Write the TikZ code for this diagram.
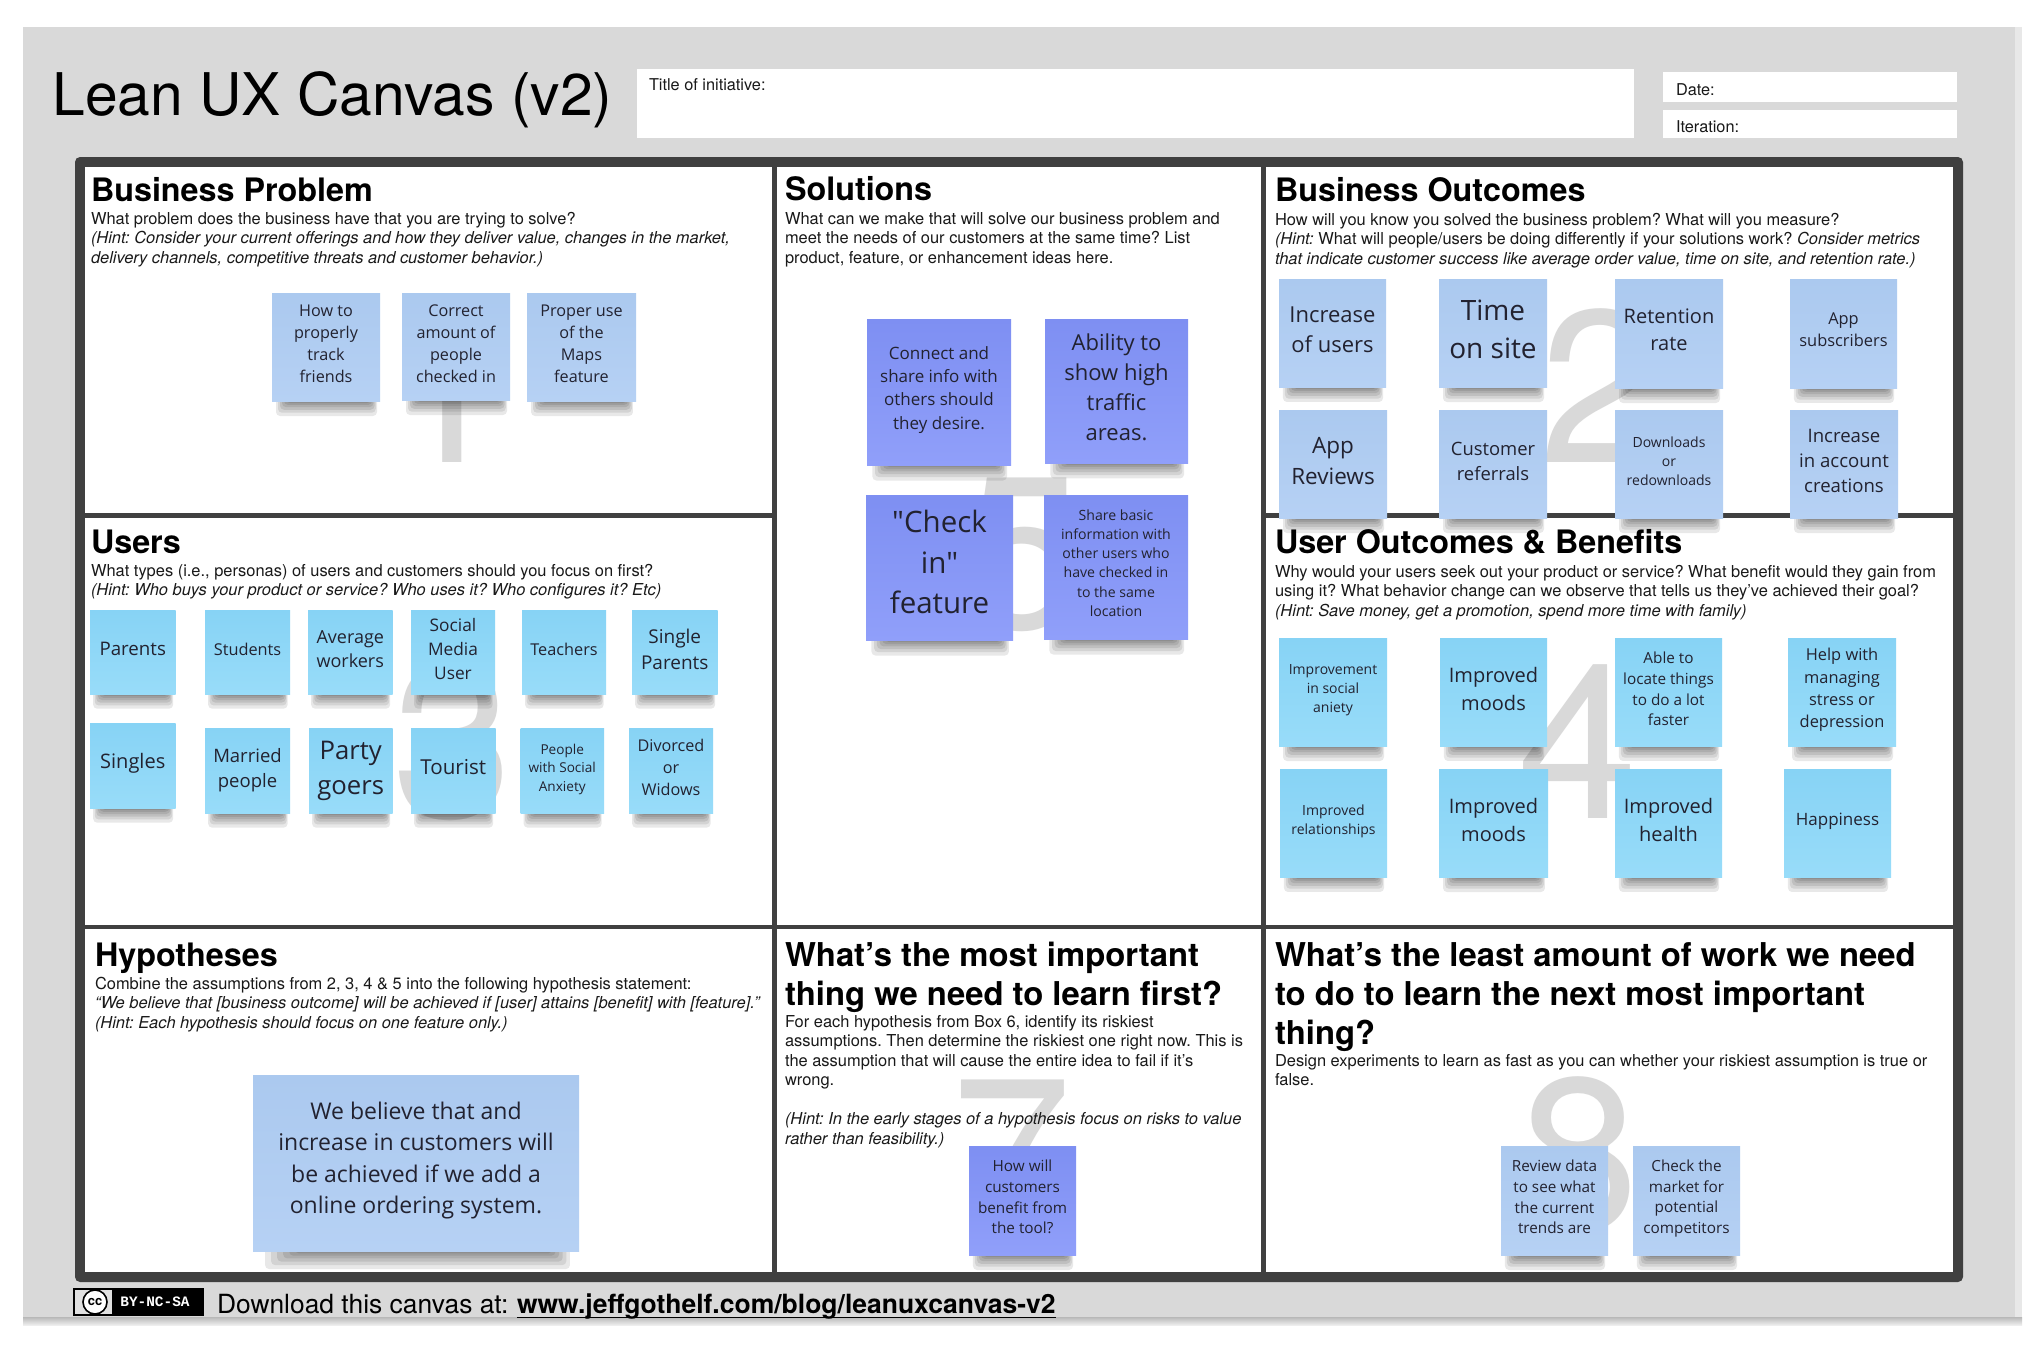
\documentclass[tikz,border=0pt]{standalone}
\usepackage{fontspec}
\setmainfont{TeX Gyre Heros}
\newfontfamily\noto{Open Sans}
\newfontfamily\lmonobold[BoldFont={Liberation Mono Bold}]{Liberation Mono}
\frenchspacing
\definecolor{framegrey}{HTML}{404040}
\definecolor{bggrey}{HTML}{D9D9D9}
\definecolor{digitgrey}{HTML}{D9D9D9}
\definecolor{stickyink}{HTML}{222230}
\tikzset{
  cellbox/.style={fill=white,draw=none,inner sep=0,outer sep=0,anchor=north west},
  heading/.style={anchor=base west,inner sep=0,outer sep=0,align=left,font=\bfseries\fontsize{16.15}{19.5}\selectfont,text=black},
  bigheading/.style={anchor=base west,inner sep=0,outer sep=0,align=left,font=\bfseries\fontsize{16.4}{19.5}\selectfont,text=black},
  bodytext/.style={anchor=base west,inner sep=0,outer sep=0,align=left,font=\fontsize{8.22}{9.75}\selectfont,text=black!90},
  hdrlabel/.style={anchor=base west,inner sep=0,outer sep=0,font=\fontsize{8.15}{9.75}\selectfont,text=black!90},
  hdrbox/.style={fill=white,draw=none,inner sep=0,outer sep=0,anchor=north west},
  bignum/.style={anchor=base,inner sep=0,outer sep=0,text=digitgrey,font=\fontsize{108.5}{110}\selectfont},
  stickybox/.style={inner sep=0,outer sep=0,draw=none},
  stickytext/.style={inner sep=0,outer sep=0,align=center,text=stickyink},
  paleblue/.style={top color=paleTop,bottom color=paleBot},
  skyblue/.style={top color=skyTop,bottom color=skyBot},
  periwinkle/.style={top color=periTop,bottom color=periBot}
}
\definecolor{paleTop}{HTML}{ABC9EF}
\definecolor{paleBot}{HTML}{B6D1F4}
\definecolor{skyTop}{HTML}{87D3F5}
\definecolor{skyBot}{HTML}{98DCF9}
\definecolor{periTop}{HTML}{7E8FF2}
\definecolor{periBot}{HTML}{909FFA}
% name x1 y1 x2 y2 style fontpx textcentrey text
\newcommand{\sticky}[9]{%
  \pgfmathsetmacro{\sw}{#4-#2}%
  \pgfmathsetmacro{\sh}{#5-#3}%
  \pgfmathsetmacro{\scx}{(#2+#4)/2}%
  \pgfmathsetmacro{\scy}{(#3+#5)/2}%
  \pgfmathsetmacro{\fs}{#7/2}%
  \pgfmathsetmacro{\ls}{#7/2*1.36}%
  \pgfmathsetmacro{\sk}{\sw/108}%
  \foreach \i in {0,...,6}{%
    \fill[black,opacity=.09,rounded corners=2pt]
      ({#2+(4+2*\i)*\sk},{#5-6}) rectangle ({#4-(3+1.2*\i)*\sk},{#5+15*pow(1-\i/7,1.6)*(0.9+0.1*\sk)});
  }%
  \node[stickybox,#6,minimum width=\sw*0.5pt,minimum height=\sh*0.5pt] (#1) at (\scx,\scy) {};
  \node[stickytext,font=\noto\fontsize{\fs}{\ls}\selectfont] (#1t) at (\scx,#8) {#9};
}
\begin{document}
\begin{tikzpicture}[x=0.5pt,y=-0.5pt]
\useasboundingbox (0,0) rectangle (2042,1345);
\fill[white] (0,0) rectangle (2042,1345);
% page
\fill[bggrey!60] (2015,27) rectangle (2022,1325);
\shade[top color=bggrey!85!black!100,bottom color=bggrey!45] (23,1317) rectangle (2022,1325);
\fill[bggrey] (23,27) rectangle (2015,1317);
% header
\node[anchor=base west,inner sep=0,font=\fontsize{29.4}{32}\selectfont] (title) at (52,115) {Lean UX Canvas (v2)};
\node[hdrbox,minimum width=498.5pt,minimum height=34.5pt] (titlebox) at (637,69) {};
\node[hdrbox,minimum width=147pt,minimum height=15pt] (datebox) at (1663,72) {};
\node[hdrbox,minimum width=147pt,minimum height=14pt] (iterbox) at (1663,110) {};
\node[hdrlabel] (titlelabel) at (649,90.5) {Title of initiative:};
\node[hdrlabel] (datelabel) at (1676,95) {Date:};
\node[hdrlabel] (iterlabel) at (1676,132) {Iteration:};
% frame
\node[fill=framegrey,rounded corners=2.5pt,inner sep=0,outer sep=0,anchor=north west,minimum width=944pt,minimum height=562.5pt] (frame) at (75,157) {};
% cells
\node[cellbox,minimum width=343.5pt,minimum height=173pt] (cellone) at (85,167) {};
\node[cellbox,minimum width=343.5pt,minimum height=203.5pt] (cellthree) at (85,518) {};
\node[cellbox,minimum width=242pt,minimum height=379pt] (cellfive) at (777,167) {};
\node[cellbox,minimum width=343.5pt,minimum height=173pt] (celltwo) at (1266,167) {};
\node[cellbox,minimum width=343.5pt,minimum height=203.5pt] (cellfour) at (1266,518) {};
\node[cellbox,minimum width=343.5pt,minimum height=171.5pt] (cellsix) at (85,929) {};
\node[cellbox,minimum width=242pt,minimum height=171.5pt] (cellseven) at (777,929) {};
\node[cellbox,minimum width=343.5pt,minimum height=171.5pt] (celleight) at (1266,929) {};
% digits
\node[bignum] (numone) at (447,462) {1};
\node[bignum] (numtwo) at (1600,462) {2};
\node[bignum] (numthree) at (453,817) {3};
\node[bignum] (numfour) at (1578,818) {4};
\node[bignum] (numfive) at (1024,628) {5};
\node[bignum] (numseven) at (1012,1230) {7};
\node[bignum] (numeight) at (1579,1230) {8};
% headings (base anchor of a multi-line node is its last line)
\node[heading] (hBP) at (91,201) {Business Problem};
\node[heading] (hSol) at (785,200) {Solutions};
\node[heading] (hBO) at (1275,201) {Business Outcomes};
\node[heading] (hUsers) at (91,553) {Users};
\node[heading] (hUO) at (1275,553) {User Outcomes \& Benefits};
\node[heading] (hHyp) at (95,966) {Hypotheses};
\node[bigheading] (hMost) at (785,1005) {What’s the most important\\thing we need to learn first?};
\node[bigheading] (hLeast) at (1275,1044) {What’s the least amount of work we need\\to do to learn the next most important\\thing?};
% body
\node[bodytext] (bBP) at (91,263) {What problem does the business have that you are trying to solve?\\\itshape(Hint: Consider your current offerings and how they deliver value, changes in the market,\\\itshape delivery channels, competitive threats and customer behavior.)};
\node[bodytext] (bSol) at (785,263) {What can we make that will solve our business problem and\\meet the needs of our customers at the same time? List\\product, feature, or enhancement ideas here.};
\node[bodytext] (bBO) at (1275,264) {How will you know you solved the business problem? What will you measure?\\\textit{(Hint:} What will people/users be doing differently if your solutions work? \textit{Consider metrics}\\\itshape that indicate customer success like average order value, time on site, and retention rate.)};
\node[bodytext] (bUsers) at (91,595.5) {What types (i.e., personas) of users and customers should you focus on first?\\\itshape(Hint: Who buys your product or service? Who uses it? Who configures it? Etc)};
\node[bodytext] (bUO) at (1275,616) {Why would your users seek out your product or service? What benefit would they gain from\\using it? What behavior change can we observe that tells us they've achieved their goal?\\\itshape(Hint: Save money, get a promotion, spend more time with family)};
\node[bodytext] (bHyp) at (95,1028) {Combine the assumptions from 2, 3, 4 \& 5 into the following hypothesis statement:\\\itshape“We believe that [business outcome] will be achieved if [user] attains [benefit] with [feature].”\\\itshape(Hint: Each hypothesis should focus on one feature only.)};
\node[bodytext] (bMost) at (785,1144) {For each hypothesis from Box 6, identify its riskiest\\assumptions. Then determine the riskiest one right now. This is\\the assumption that will cause the entire idea to fail if it’s\\wrong.\\[9.75pt]\itshape(Hint: In the early stages of a hypothesis focus on risks to value\\\itshape rather than feasibility.)};
\node[bodytext] (bLeast) at (1275,1085.5) {Design experiments to learn as fast as you can whether your riskiest assumption is true or\\false.};
% Business problem stickies
\sticky{bpa}{272}{293}{380}{401}{paleblue}{16.2}{344}{How to\\properly\\track\\friends}
\sticky{bpb}{402}{293}{510}{400}{paleblue}{16.2}{344}{Correct\\amount of\\people\\checked in}
\sticky{bpc}{527}{293}{636}{401}{paleblue}{16.2}{344}{Proper use\\of the\\Maps\\feature}
% Business outcomes stickies
\sticky{boa}{1279}{279}{1386}{387}{paleblue}{22}{330}{Increase\\of users}
\sticky{bob}{1439}{279}{1547}{387}{paleblue}{28}{329}{Time\\on site}
\sticky{boc}{1615}{279}{1723}{388}{paleblue}{20}{330}{Retention\\rate}
\sticky{bod}{1790}{279}{1897}{388}{paleblue}{16.4}{330}{App\\subscribers}
\sticky{boe}{1279}{410}{1387}{518}{paleblue}{22.5}{461}{App\\Reviews}
\sticky{bof}{1439}{410}{1547}{518}{paleblue}{18.4}{461}{Customer\\referrals}
\sticky{bog}{1615}{410}{1723}{518}{paleblue}{14}{461}{Downloads\\or\\redownloads}
\sticky{boh}{1790}{410}{1898}{518}{paleblue}{18.6}{461}{Increase\\in account\\creations}
% Users stickies
\sticky{ua}{90}{610}{175.5}{694}{skyblue}{18.7}{649}{Parents}
\sticky{ub}{205}{610}{290}{694}{skyblue}{16.3}{649}{Students}
\sticky{uc}{308}{610}{392.5}{694}{skyblue}{18}{649}{Average\\workers}
\sticky{ud}{411}{610}{495}{694}{skyblue}{17.3}{649}{Social\\Media\\User}
\sticky{ue}{522}{610}{606}{694}{skyblue}{16.3}{649}{Teachers}
\sticky{uf}{632}{610}{717.5}{694}{skyblue}{19}{649}{Single\\Parents}
\sticky{ug}{90}{723}{175.5}{808}{skyblue}{20}{763}{Singles}
\sticky{uh}{205}{728}{290}{813}{skyblue}{18.5}{770.5}{Married\\people}
\sticky{ui}{309}{728}{392.5}{813}{skyblue}{25.7}{770.5}{Party\\goers}
\sticky{uj}{411}{728}{495.5}{813}{skyblue}{20.6}{767}{Tourist}
\sticky{uk}{520.5}{728}{604}{813}{skyblue}{13.6}{769}{People\\with Social\\Anxiety}
\sticky{ul}{629}{728}{713}{813}{skyblue}{16.2}{767}{Divorced\\or\\Widows}
% Solutions stickies
\sticky{sa}{867}{319}{1011}{465}{periwinkle}{17}{390}{Connect and\\share info with\\others should\\they desire.}
\sticky{sb}{1045}{319}{1188}{463}{periwinkle}{22}{387}{Ability to\\show high\\traffic\\areas.}
\sticky{sc}{866}{495}{1013}{640}{periwinkle}{29.5}{562}{"Check\\in"\\feature}
\sticky{sd}{1044}{495}{1188}{639}{periwinkle}{14.1}{563}{Share basic\\information with\\other users who\\have checked in\\to the same\\location}
% User outcomes stickies
\sticky{oa}{1279}{638}{1387}{746}{skyblue}{14}{690}{Improvement\\in social\\aniety}
\sticky{ob}{1440}{638}{1547}{746}{skyblue}{20}{689}{Improved\\moods}
\sticky{oc}{1615}{638}{1722}{746}{skyblue}{15.3}{689}{Able to\\locate things\\to do a lot\\faster}
\sticky{od}{1788}{638}{1896}{746}{skyblue}{16.4}{690}{Help with\\managing\\stress or\\depression}
\sticky{oe}{1280}{769}{1387}{877}{skyblue}{14}{821}{Improved\\relationships}
\sticky{of}{1439}{769}{1548}{877}{skyblue}{20}{820}{Improved\\moods}
\sticky{og}{1615}{769}{1722}{877}{skyblue}{20}{820}{Improved\\health}
\sticky{oh}{1784}{769}{1891}{877}{skyblue}{17}{821}{Happiness}
% Hypothesis sticky
\sticky{ha}{253}{1075}{579}{1251}{paleblue}{23}{1160.5}{We believe that and\\increase in customers will\\be achieved if we add a\\online ordering system.}
% Learn sticky
\sticky{la}{969}{1146}{1076}{1255}{periwinkle}{15.3}{1197}{How will\\customers\\benefit from\\the tool?}
% Least work stickies
\sticky{wa}{1501}{1146}{1608}{1255}{paleblue}{15.3}{1197}{Review data\\to see what\\the current\\trends are}
\sticky{wb}{1633}{1146}{1740}{1255}{paleblue}{15.3}{1198.5}{Check the\\market for\\potential\\competitors}
% Footer
\node[fill=black!12,draw=black,line width=0.7pt,inner sep=0,outer sep=0,anchor=north west,minimum width=64.5pt,minimum height=13pt] (ccbadge) at (74,1289) {};
\node[fill=black,inner sep=0,outer sep=0,anchor=north west,minimum width=45.5pt,minimum height=13pt] (ccdark) at (112,1289) {};
\node[circle,draw=black,fill=white,line width=0.8pt,inner sep=0,minimum size=12pt,font=\bfseries\fontsize{6.5}{6.5}\selectfont] (cclogo) at (95,1302) {cc};
\node[inner sep=0,text=white,font=\lmonobold\bfseries\fontsize{7.2}{8}\selectfont] (ccterms) at (155,1302) {BY-NC-SA};
\node[anchor=base west,inner sep=0,outer sep=0,font=\fontsize{13.2}{15}\selectfont] (dl) at (217,1313) {Download this canvas at:};
\node[anchor=base west,inner sep=0,outer sep=0,font=\bfseries\fontsize{13.25}{15}\selectfont] (dlink) at (517,1313) {www.jeffgothelf.com/blog/leanuxcanvas-v2};
\draw[black,line width=0.4pt] ([yshift=-2pt]dlink.base west) -- ([yshift=-2pt]dlink.base east);
\end{tikzpicture}
\end{document}
